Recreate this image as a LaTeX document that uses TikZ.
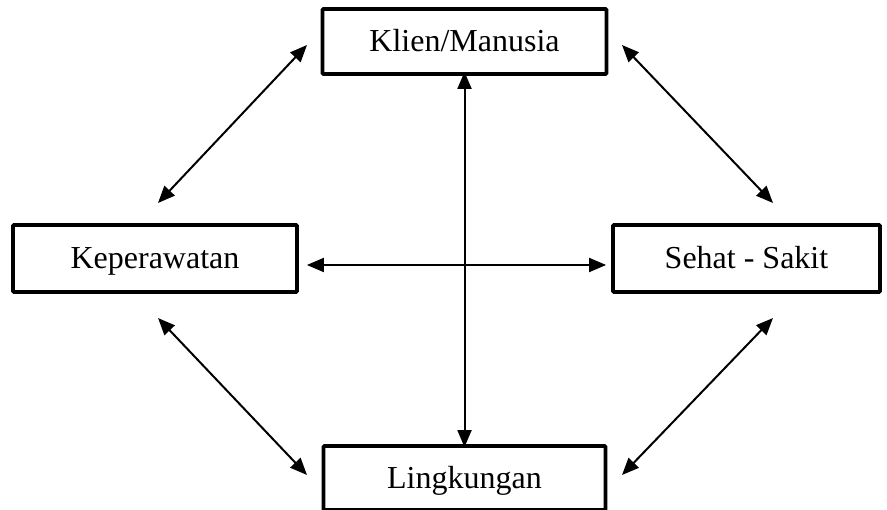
\documentclass[tikz,border=0pt]{standalone}
\usepackage{fontspec}
\setmainfont{Liberation Serif}
\usetikzlibrary{arrows.meta}
\begin{document}
\begin{tikzpicture}[x=1pt,y=-1pt,
  box/.style={draw,line width=3.8pt,rounded corners=1pt,inner sep=0pt,text height=21pt,text depth=0pt,font=\fontsize{32}{38}\selectfont},
  link/.style={line width=2pt,{Triangle[length=17pt,width=14pt]}-{Triangle[length=17pt,width=14pt]}}]
\useasboundingbox (0,0) rectangle (887,510);
\node[box,minimum width=284pt,minimum height=65pt] (K) at (464.5,41.5) {Klien/Manusia};
\node[box,minimum width=284pt,minimum height=67pt] (P) at (155,258.5) {Keperawatan};
\node[box,minimum width=267pt,minimum height=67pt] (S) at (746.5,258.5) {Sehat - Sakit};
\node[box,minimum width=282pt,minimum height=64pt] (L) at (464.5,478) {Lingkungan};
\coordinate (a1) at (158,203); \coordinate (a2) at (307,45);
\coordinate (b1) at (622,45); \coordinate (b2) at (773,203);
\coordinate (c1) at (158,318); \coordinate (c2) at (307,475);
\coordinate (d1) at (773,318); \coordinate (d2) at (622,475);
\draw[link] (a1) -- (a2);
\draw[link] (b1) -- (b2);
\draw[link] (c1) -- (c2);
\draw[link] (d1) -- (d2);
\draw[link] ([xshift=8pt,yshift=-6.5pt]P.east) -- ([xshift=-5pt,yshift=-6.5pt]S.west);
\draw[link] ([yshift=4pt]K.south) -- ([yshift=-3pt]L.north);
\end{tikzpicture}
\end{document}
